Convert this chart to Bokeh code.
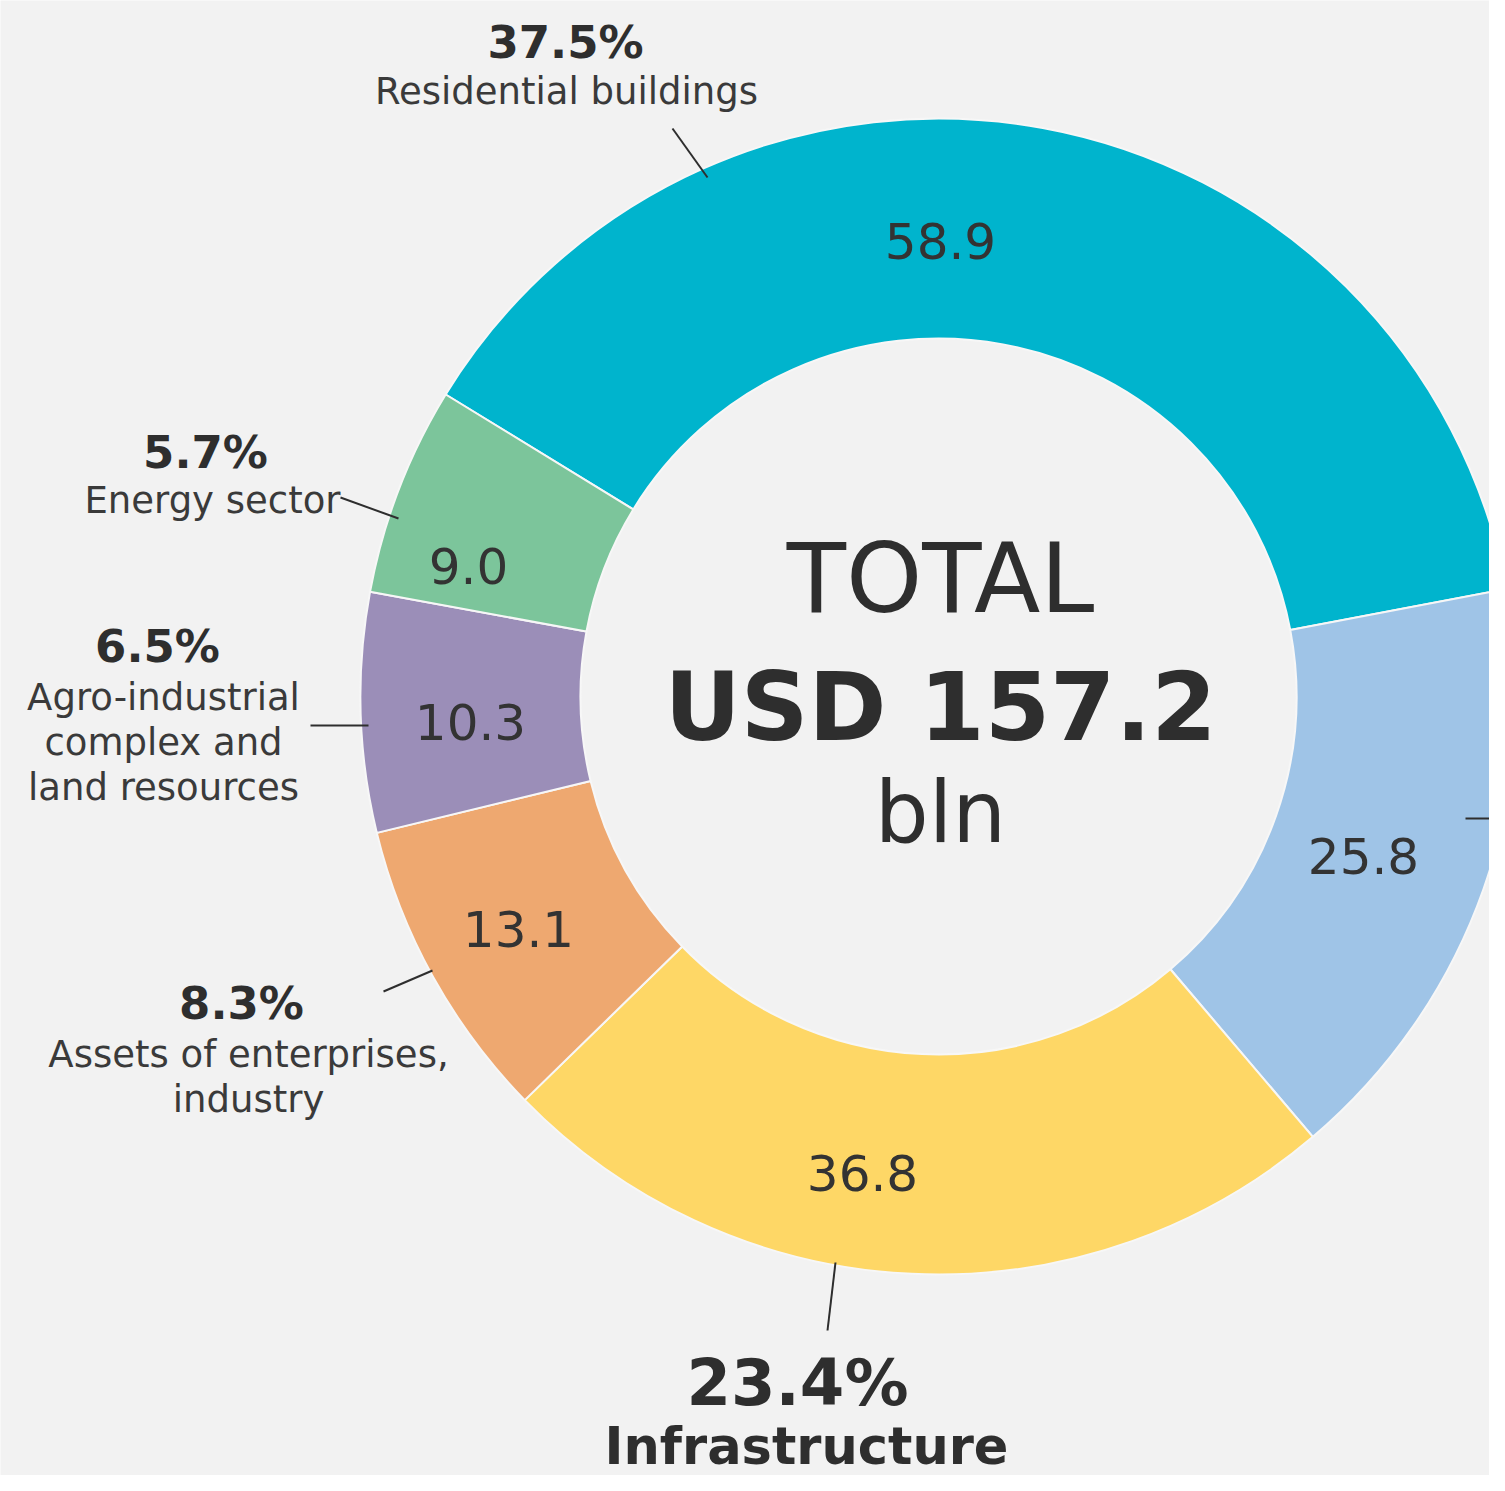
import math
from bokeh.plotting import figure
from bokeh.models import Range1d, ColumnDataSource
from bokeh.core.properties import value
from bokeh.embed import file_html
from bokeh.resources import INLINE

# ---------------- data ----------------
sectors = ["Residential buildings", "Other", "Infrastructure",
           "Assets of enterprises, industry",
           "Agro-industrial complex and land resources", "Energy sector"]
values = [58.9, 25.8, 36.8, 13.1, 10.3, 9.0]
value_labels = ["58.9", "25.8", "36.8", "13.1", "10.3", "9.0"]
share_labels = ["37.5%", "", "23.4%", "8.3%", "6.5%", "5.7%"]
name_lines = [["Residential buildings"], [], ["Infrastructure"],
              ["Assets of enterprises,", "industry"],
              ["Agro-industrial", "complex and", "land resources"],
              ["Energy sector"]]
total_lines = ["TOTAL", "USD 157.2", "bln"]

# ---------------- style / layout ----------------
colors = ["#00b4cd", "#9fc4e7", "#fed766", "#eea870", "#9b8eb8", "#7cc59b"]
BG = "#f2f2f2"
INK = "#2e2e2e"
FONT = "DejaVu Sans"
W, H = 1489, 1475
CX, CY = 938, 696            # centre (reference pixel coords)
R_IN, R_OUT = 358, 578
START_DEG = 148.5            # boundary energy / residential

# label anchor positions (reference pixel coords)
value_pos = [(940, 240), (1363, 855), (862, 1172), (518, 928), (470, 721), (468, 565)]
share_pos = [(565, 42), None, (797, 1382), (241, 1003), (157, 646), (205, 452)]
name_pos = [(566, 91), None, (806, 1446), (248, 1054), (163, 697), (212, 500)]
name_step = 45
leaders = [[(672, 128), (707, 177)], [(1465, 818), (1505, 818)],
           [(835, 1262), (827, 1330)], [(383, 991), (432, 970)],
           [(310, 725), (368, 725)], [(340, 497), (398, 518)]]


def Y(ry):
    return 1491 - ry


p = figure(width=W, height=H, output_backend="svg", toolbar_location=None,
           x_range=Range1d(0, W), y_range=Range1d(1491 - H, 1491),
           background_fill_color=BG, border_fill_color=BG, min_border=0)
p.axis.visible = False
p.grid.visible = False
p.outline_line_color = None

# wedges from data
total = sum(values)
starts, ends = [], []
cum = 0.0
for v in values:
    a0 = math.radians(START_DEG) - 2 * math.pi * cum / total
    a1 = a0 - 2 * math.pi * v / total
    starts.append(a1)
    ends.append(a0)
    cum += v

src = ColumnDataSource(dict(x=[CX] * len(values), y=[Y(CY)] * len(values),
                            start=starts, end=ends, color=colors, name=sectors))
p.annular_wedge(x="x", y="y", inner_radius=R_IN, outer_radius=R_OUT,
                start_angle="start", end_angle="end", direction="anticlock",
                fill_color="color", line_color="#f7f7f7", line_width=2, source=src)

# leader lines
p.multi_line(xs=[[a[0], b[0]] for a, b in leaders],
             ys=[[Y(a[1]), Y(b[1])] for a, b in leaders],
             line_color=INK, line_width=2)

# value labels inside the ring
p.text(x=[q[0] for q in value_pos], y=[Y(q[1]) for q in value_pos], text=value_labels,
       text_font=value(FONT), text_font_size="50px", text_color="#333333",
       text_align="center", text_baseline="middle")

# share labels
for i, s in enumerate(share_labels):
    if not s:
        continue
    big = (i == 2)
    p.text(x=[share_pos[i][0]], y=[Y(share_pos[i][1])], text=[s],
           text_font=value(FONT), text_font_size="64px" if big else "45px",
           text_font_style="bold", text_color=INK,
           text_align="center", text_baseline="middle")
    nx, ny = name_pos[i]
    for k, ln in enumerate(name_lines[i]):
        p.text(x=[nx], y=[Y(ny + name_step * k)], text=[ln],
               text_font=value(FONT), text_font_size="51px" if big else "37px",
               text_font_style="bold" if big else "normal",
               text_color=INK if big else "#3a3a3a",
               text_align="center", text_baseline="middle")

# centre text
p.text(x=[940], y=[Y(578)], text=[total_lines[0]], text_font=value(FONT),
       text_font_size="97px", text_color=INK, text_align="center", text_baseline="middle")
p.text(x=[940], y=[Y(707)], text=[total_lines[1]], text_font=value(FONT),
       text_font_size="94px", text_font_style="bold", text_color=INK,
       text_align="center", text_baseline="middle")
p.text(x=[940], y=[Y(812)], text=[total_lines[2]], text_font=value(FONT),
       text_font_size="85px", text_color=INK, text_align="center", text_baseline="middle")

open("out.html", "w").write(file_html(p, INLINE))
